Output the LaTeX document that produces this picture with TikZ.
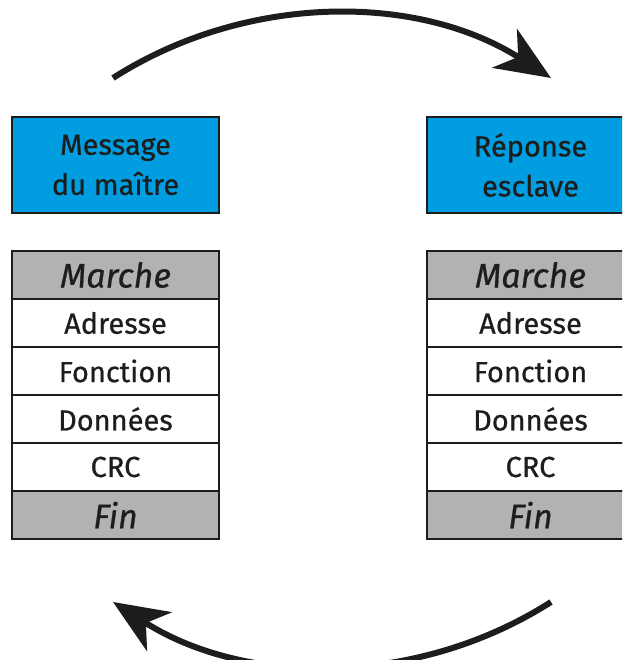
\documentclass[tikz,border=0pt]{standalone}
\usepackage{fontspec}
\setmainfont{Fira Sans}[FakeBold=0.6]
\usetikzlibrary{arrows.meta}
\definecolor{ink}{HTML}{1D1D1B}
\definecolor{bluefill}{HTML}{009EE0}
\definecolor{grayfill}{HTML}{B2B2B2}
\begin{document}
\begin{tikzpicture}[x=1pt,y=-1pt,
  cell/.style={draw=ink, line width=2.5pt, minimum width=207pt, minimum height=48pt,
    inner sep=0pt, text=ink, font=\fontsize{29}{34}\selectfont, anchor=center},
  plaincell/.style={cell, fill=white},
  graycell/.style={cell, fill=grayfill, font=\fontsize{34}{36}\selectfont\itshape},
  bluebox/.style={cell, fill=bluefill, minimum height=96pt, align=center,
    font=\fontsize{29}{40}\selectfont},
  cyclearrow/.style={draw=ink, line width=6pt,
    -{Stealth[length=55pt, width=46pt, inset=16pt]}}]
\useasboundingbox (0,0) rectangle (622,660);
\begin{scope}
\clip (0,0) rectangle (622,660);
% left column
\node[bluebox] (mb) at (115.5,165) {Message\\du maître};
\node[graycell] (l1) at (115.5,275) {Marche};
\node[plaincell] (l2) at (115.5,323) {Adresse};
\node[plaincell] (l3) at (115.5,371) {Fonction};
\node[plaincell] (l4) at (115.5,419) {Données};
\node[plaincell] (l5) at (115.5,467) {CRC};
\node[graycell] (l6) at (115.5,515) {Fin};
% right column
\node[bluebox] (rb) at (530.5,165) {Réponse\\esclave};
\node[graycell] (r1) at (530.5,275) {Marche};
\node[plaincell] (r2) at (530.5,323) {Adresse};
\node[plaincell] (r3) at (530.5,371) {Fonction};
\node[plaincell] (r4) at (530.5,419) {Données};
\node[plaincell] (r5) at (530.5,467) {CRC};
\node[graycell] (r6) at (530.5,515) {Fin};
% arrows
\coordinate (t1) at (113,78);
\coordinate (t2) at (551,78);
\coordinate (b1) at (551,602);
\coordinate (b2) at (113,602);
\draw[cyclearrow] (t1) .. controls (246,-7) and (418,-7) .. (t2);
\draw[cyclearrow] (b1) .. controls (418,687) and (246,687) .. (b2);
\end{scope}
\end{tikzpicture}
\end{document}
